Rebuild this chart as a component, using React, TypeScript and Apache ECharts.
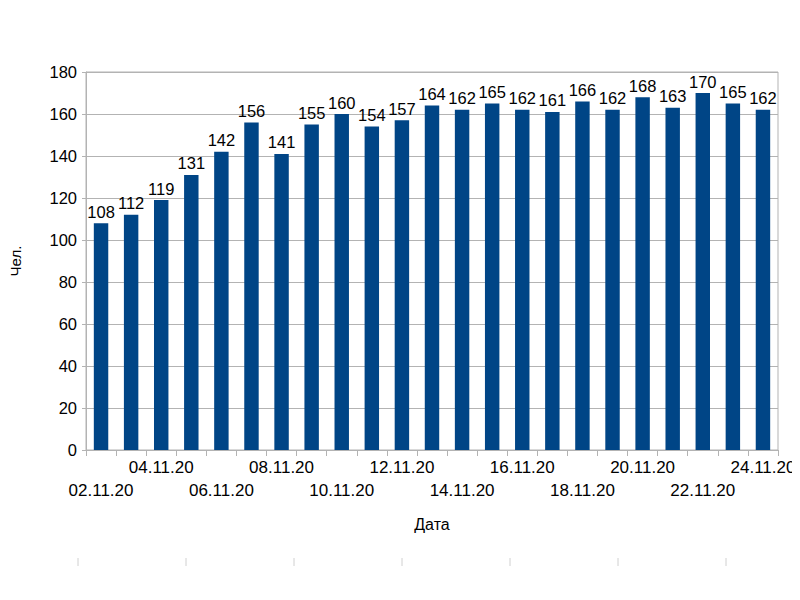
import React, { useEffect, useRef } from "react";
import * as echarts from "echarts";

const categories = [
  "02.11.20", "03.11.20", "04.11.20", "05.11.20", "06.11.20", "07.11.20",
  "08.11.20", "09.11.20", "10.11.20", "11.11.20", "12.11.20", "13.11.20",
  "14.11.20", "15.11.20", "16.11.20", "17.11.20", "18.11.20", "19.11.20",
  "20.11.20", "21.11.20", "22.11.20", "23.11.20", "24.11.20",
];
const values = [
  108, 112, 119, 131, 142, 156, 141, 155, 160, 154, 157, 164,
  162, 165, 162, 161, 166, 162, 168, 163, 170, 165, 162,
];
const yAxisName = "Чел.";
const xAxisName = "Дата";

const FONT = "'Liberation Sans', Arial, sans-serif";

export default function App() {
  const ref = useRef<HTMLDivElement>(null);
  useEffect(() => {
    if (!ref.current) return;
    const chart = echarts.init(ref.current, undefined, { renderer: "svg" });
    const gray = "#b3b3b3";
    const artifactXs = [78, 186, 294, 402, 510, 618, 726];
    chart.setOption({
      animation: false,
      backgroundColor: "#ffffff",
      textStyle: { fontFamily: FONT },
      grid: {
        left: 80,
        right: 22,
        top: 72,
        bottom: 150,
        show: true,
        borderColor: gray,
        borderWidth: 1,
        containLabel: false,
      },
      xAxis: {
        type: "category",
        data: categories,
        name: xAxisName,
        nameLocation: "middle",
        nameGap: 66,
        nameTextStyle: { color: "#000", fontSize: 16, fontFamily: FONT },
        axisLine: { show: true, lineStyle: { color: gray } },
        axisTick: {
          show: true,
          interval: 0,
          alignWithLabel: false,
          length: 6,
          lineStyle: { color: gray },
        },
        axisLabel: {
          interval: 0,
          margin: 6,
          color: "#000",
          fontSize: 17,
          fontFamily: FONT,
          lineHeight: 23,
          formatter: (v: string, i: number) =>
            i % 4 === 0 ? "\n" + v : i % 4 === 2 ? v : "",
        },
        splitLine: { show: false },
      },
      yAxis: {
        type: "value",
        min: 0,
        max: 180,
        interval: 20,
        name: yAxisName,
        nameLocation: "middle",
        nameGap: 63,
        nameRotate: 90,
        nameTextStyle: { color: "#000", fontSize: 15, fontFamily: FONT },
        axisLine: { show: true, lineStyle: { color: gray } },
        axisTick: { show: true, length: 4, lineStyle: { color: gray } },
        axisLabel: { color: "#000", fontSize: 16.5, margin: 9, fontFamily: FONT },
        splitLine: { show: true, lineStyle: { color: gray, width: 1 } },
      },
      series: [
        {
          type: "bar",
          data: values,
          barWidth: "48%",
          itemStyle: { color: "#004586" },
          label: {
            show: true,
            position: "top",
            distance: 3,
            color: "#000",
            fontSize: 16.5,
            fontFamily: FONT,
          },
        },
      ],
      graphic: artifactXs.map((x) => ({
        type: "line",
        shape: { x1: x, y1: 558, x2: x, y2: 566 },
        style: { stroke: "#d0d0d0", lineWidth: 1 },
        silent: true,
      })),
    });
    return () => chart.dispose();
  }, []);
  return <div ref={ref} style={{ width: 800, height: 600, margin: -8 }} />;
}
